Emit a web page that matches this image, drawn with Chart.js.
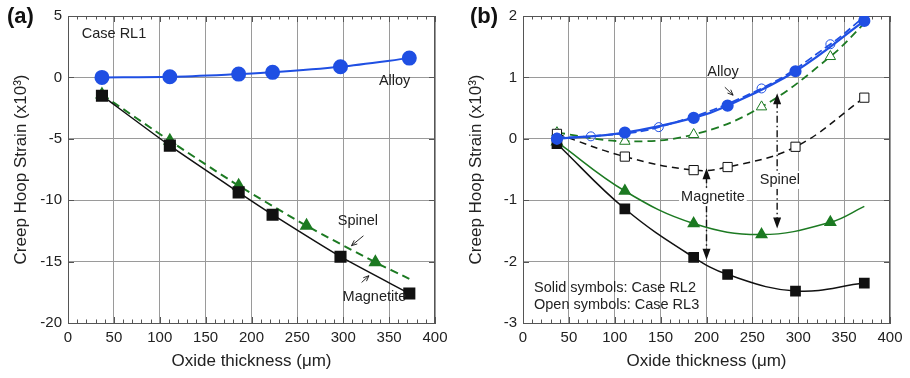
<!DOCTYPE html>
<html>
<head>
<meta charset="utf-8">
<script src="https://cdn.jsdelivr.net/npm/chart.js@4"></script>
<style>
  body { margin: 0; background: #fff; }
  .wrap { display: flex; width: 910px; height: 378px; }
  .panel { position: relative; width: 455px; height: 378px; }
  .tag { position: absolute; top: 3px; font: bold 22px "Liberation Sans", Arial, sans-serif; color: #111; }
</style>
</head>
<body>
<div class="wrap">
  <div class="panel"><canvas id="chartA" width="455" height="378"></canvas><div class="tag" style="left:7px">(a)</div></div>
  <div class="panel"><canvas id="chartB" width="455" height="378"></canvas><div class="tag" style="left:15px">(b)</div></div>
</div>
<script>
// espesores de óxido (um)
var thickness = [37, 111, 186, 223, 297, 372];
var spinelThickness = [37, 111, 186, 260, 335, 372];
var openAlloyThickness = [37, 74, 148, 260, 335, 372];

// caso RL1
var rl1Alloy = [0, 0.05, 0.27, 0.41, 0.87, 1.57];
var rl1Magnetite = [-1.49, -5.56, -9.36, -11.18, -14.6, -17.6];
var rl1Spinel = [-1.4, -5.16, -8.82, -12.08, -15.06, -16.4];

// caso RL2 (simbolos llenos)
var rl2Alloy = [0, 0.1, 0.34, 0.54, 1.1, 1.92];
var rl2Magnetite = [-0.08, -1.14, -1.93, -2.21, -2.48, -2.35];
var rl2Spinel = [-0.05, -0.85, -1.38, -1.56, -1.36, -1.1];

// caso RL3 (simbolos abiertos)
var rl3Alloy = [0.02, 0.04, 0.19, 0.82, 1.54, 1.99];
var rl3Magnetite = [0.08, -0.29, -0.51, -0.46, -0.13, 0.67];
var rl3Spinel = [0.1, -0.04, 0.07, 0.52, 1.34, 1.88];

// ejes
var xRange = [0, 400, 50];
var yRangeA = [-20, 5, 5];
var yRangeB = [-3, 2, 1];

var BLUE = '#1f4fe3';
var GREEN = '#1c7a22';
var BLACK = '#111';
var FONT = '"Liberation Sans", Arial, sans-serif';

Chart.defaults.font.family = FONT;
Chart.defaults.color = '#222';

function pares(xs, ys) {
  return xs.map(function(x, i) { return { x: x, y: ys[i] }; });
}

// marco, ticks menores y anotaciones
var marco = {
  id: 'marco',
  beforeDatasetsDraw: function(chart) {
    var ctx = chart.ctx, a = chart.chartArea, sx = chart.scales.x, sy = chart.scales.y;
    ctx.save();
    ctx.strokeStyle = '#555';
    ctx.lineWidth = 1;
    ctx.strokeRect(a.left + 0.5, a.top + 0.5, a.right - a.left - 1, a.bottom - a.top);
    ctx.beginPath();
    for (var v = sx.min; v <= sx.max; v += 10) {
      var px = Math.round(sx.getPixelForValue(v)) + 0.5;
      var len = (v % 50 === 0) ? 6 : 3.5;
      ctx.moveTo(px, a.bottom); ctx.lineTo(px, a.bottom - len);
      ctx.moveTo(px, a.top); ctx.lineTo(px, a.top + len);
    }
    sy.ticks.forEach(function(t) {
      var py = Math.round(sy.getPixelForValue(t.value)) + 0.5;
      ctx.moveTo(a.left, py); ctx.lineTo(a.left + 6, py);
      ctx.moveTo(a.right, py); ctx.lineTo(a.right - 6, py);
    });
    ctx.stroke();
    ctx.restore();
  },
  afterDatasetsDraw: function(chart, args, opts) {
    var ctx = chart.ctx, sx = chart.scales.x, sy = chart.scales.y;
    var X = function(v) { return sx.getPixelForValue(v); };
    var Y = function(v) { return sy.getPixelForValue(v); };
    ctx.save();
    ctx.strokeStyle = BLACK;
    ctx.fillStyle = BLACK;

    (opts.flechas || []).forEach(function(f) {
      var x1 = X(f.de[0]), y1 = Y(f.de[1]), x2 = X(f.a[0]), y2 = Y(f.a[1]);
      var ang = Math.atan2(y2 - y1, x2 - x1);
      ctx.lineWidth = 0.9;
      ctx.setLineDash([]);
      ctx.beginPath();
      ctx.moveTo(x1, y1); ctx.lineTo(x2, y2);
      ctx.moveTo(x2 - 6 * Math.cos(ang - 0.4), y2 - 6 * Math.sin(ang - 0.4));
      ctx.lineTo(x2, y2);
      ctx.lineTo(x2 - 6 * Math.cos(ang + 0.4), y2 - 6 * Math.sin(ang + 0.4));
      ctx.stroke();
    });

    (opts.dobles || []).forEach(function(d) {
      var x = X(d.x), ya = Y(d.y1), yb = Y(d.y2);
      ctx.lineWidth = 1.4;
      ctx.setLineDash([7, 3, 1.5, 3]);
      ctx.beginPath();
      ctx.moveTo(x, ya + 8); ctx.lineTo(x, yb - 8);
      ctx.stroke();
      ctx.setLineDash([]);
      ctx.beginPath();
      ctx.moveTo(x, ya); ctx.lineTo(x - 4, ya + 11); ctx.lineTo(x + 4, ya + 11); ctx.closePath();
      ctx.moveTo(x, yb); ctx.lineTo(x - 4, yb - 11); ctx.lineTo(x + 4, yb - 11); ctx.closePath();
      ctx.fill();
    });

    ctx.font = '14.5px ' + FONT;
    ctx.textBaseline = 'middle';
    (opts.textos || []).forEach(function(t) {
      var px = X(t.x), py = Y(t.y);
      ctx.textAlign = t.align || 'center';
      if (t.fondo) {
        var w = ctx.measureText(t.t).width;
        ctx.fillStyle = '#fff';
        ctx.fillRect(px - w / 2 - 2, py - 9, w + 4, 18);
      }
      ctx.fillStyle = '#222';
      ctx.fillText(t.t, px, py);
    });
    ctx.restore();
  }
};

function opciones(yr, notas) {
  return {
    responsive: false,
    animation: false,
    layout: { padding: { top: 16, right: 20, left: 0, bottom: 0 } },
    plugins: { legend: { display: false }, tooltip: { enabled: false }, marco: notas },
    scales: {
      x: {
        type: 'linear', min: xRange[0], max: xRange[1],
        ticks: { stepSize: xRange[2], padding: 6, font: { size: 15 }, color: '#222' },
        grid: { color: '#9a9a9a', drawTicks: false },
        border: { color: '#555' },
        title: { display: true, text: 'Oxide thickness (\u03bcm)', font: { size: 17 }, color: '#222', padding: { top: 4, bottom: 6 } },
        afterFit: function(s) { s.height = 55; }
      },
      y: {
        type: 'linear', min: yr[0], max: yr[1],
        ticks: { stepSize: yr[2], padding: 6, font: { size: 15 }, color: '#222' },
        grid: { color: '#9a9a9a', drawTicks: false },
        border: { color: '#555' },
        title: { display: true, text: 'Creep Hoop Strain (x10\u00b3)', font: { size: 17 }, color: '#222', padding: { top: 11, bottom: 4 } },
        afterFit: function(s) { s.width = 68; }
      }
    }
  };
}

new Chart(document.getElementById('chartA'), {
  type: 'line',
  data: {
    datasets: [
      { data: pares(thickness, rl1Alloy), borderColor: BLUE, backgroundColor: BLUE, borderWidth: 2,
        pointStyle: 'circle', pointRadius: 6.5, tension: 0.3 },
      { data: pares(thickness, rl1Magnetite), borderColor: BLACK, backgroundColor: BLACK, borderWidth: 1.5,
        pointStyle: 'rect', pointRadius: 7.5, tension: 0.2 },
      { data: pares(spinelThickness, rl1Spinel), borderColor: GREEN, backgroundColor: GREEN, borderWidth: 2,
        borderDash: [8, 5], pointStyle: 'triangle', pointRadius: [6, 6, 6, 6, 6, 0], tension: 0.2 }
    ]
  },
  options: opciones(yRangeA, {
    textos: [
      { t: 'Case RL1', x: 15, y: 3.5, align: 'left' },
      { t: 'Alloy', x: 356, y: -0.3 },
      { t: 'Spinel', x: 316, y: -11.7 },
      { t: 'Magnetite', x: 334, y: -17.9 }
    ],
    flechas: [
      { de: [322, -12.9], a: [309, -13.7] },
      { de: [320, -16.7], a: [328, -16.15] }
    ]
  }),
  plugins: [marco]
});

new Chart(document.getElementById('chartB'), {
  type: 'line',
  data: {
    datasets: [
      { data: pares(thickness, rl2Alloy), borderColor: BLUE, backgroundColor: BLUE, borderWidth: 2.2,
        pointStyle: 'circle', pointRadius: 5, tension: 0.4 },
      { data: pares(openAlloyThickness, rl3Alloy), borderColor: BLUE, backgroundColor: 'rgba(255,255,255,0)', borderWidth: 1.8,
        borderDash: [8, 4], pointBorderWidth: 1, pointStyle: 'circle', pointRadius: 4.5, tension: 0.4 },
      { data: pares(thickness, rl2Magnetite), borderColor: BLACK, backgroundColor: BLACK, borderWidth: 1.5,
        pointStyle: 'rect', pointRadius: 6.5, tension: 0.4 },
      { data: pares(spinelThickness, rl2Spinel), borderColor: GREEN, backgroundColor: GREEN, borderWidth: 1.5,
        pointStyle: 'triangle', pointRadius: [6, 6, 6, 6, 6, 0], tension: 0.4 },
      { data: pares(thickness, rl3Magnetite), borderColor: BLACK, backgroundColor: '#fff', borderWidth: 1.5,
        borderDash: [7, 5], pointBorderWidth: 1, pointStyle: 'rect', pointRadius: 6.5, tension: 0.4 },
      { data: pares(spinelThickness, rl3Spinel), borderColor: GREEN, backgroundColor: '#fff', borderWidth: 1.8,
        borderDash: [8, 5], pointBorderWidth: 1, pointStyle: 'triangle', pointRadius: [6, 6, 6, 6, 6, 0], tension: 0.4 }
    ]
  },
  options: opciones(yRangeB, {
    textos: [
      { t: 'Alloy', x: 218, y: 1.09 },
      { t: 'Magnetite', x: 207, y: -0.95, fondo: true },
      { t: 'Spinel', x: 280, y: -0.67, fondo: true },
      { t: 'Solid symbols: Case RL2', x: 12, y: -2.43, align: 'left' },
      { t: 'Open symbols: Case RL3', x: 12, y: -2.71, align: 'left' }
    ],
    flechas: [
      { de: [220, 0.84], a: [229, 0.71] }
    ],
    dobles: [
      { x: 200, y1: -0.48, y2: -1.97 },
      { x: 277, y1: 0.74, y2: -1.46 }
    ]
  }),
  plugins: [marco]
});
</script>
</body>
</html>
